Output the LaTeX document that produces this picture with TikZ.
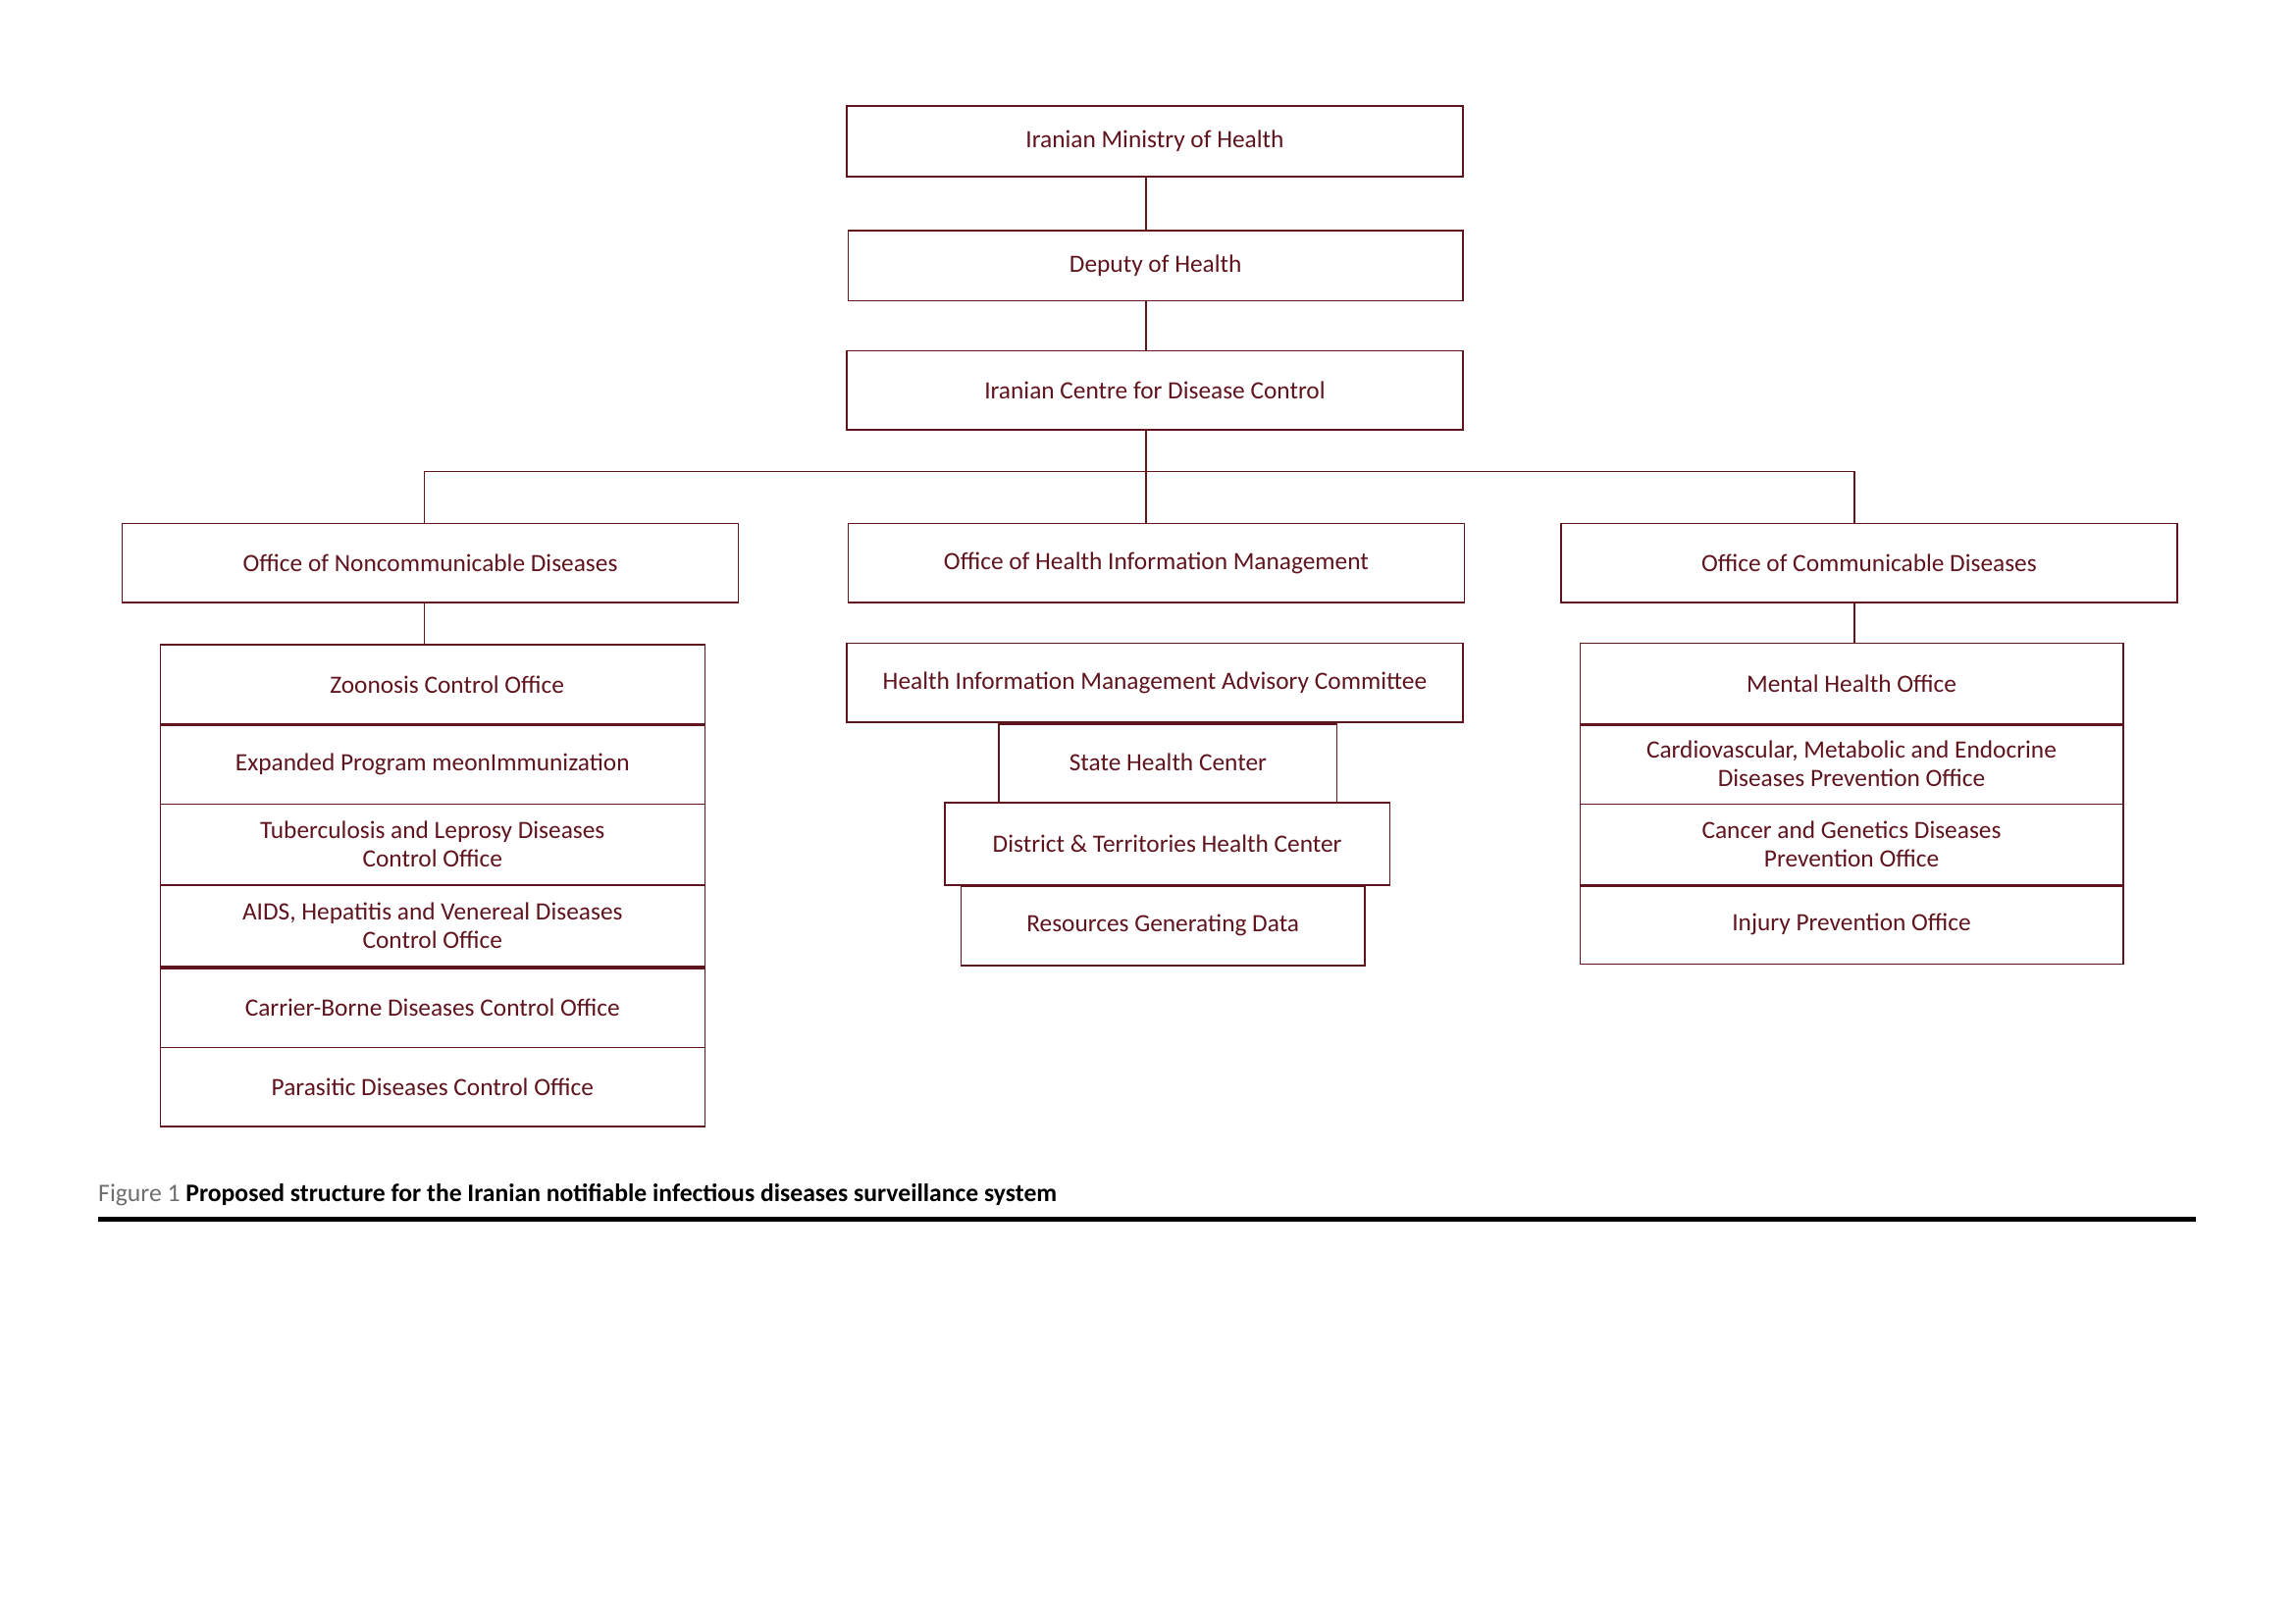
\documentclass[tikz,border=0pt]{standalone}
\usepackage{fontspec}
\setmainfont{Carlito}
\definecolor{mar}{RGB}{95,20,30}
\definecolor{capgray}{RGB}{110,110,110}
\begin{document}
\begin{tikzpicture}[x=1pt,y=-1pt,
  box/.style={draw=mar, line width=1pt, text=mar, inner sep=0pt, align=center,
    font=\fontsize{17}{19.5}\selectfont, anchor=north west},
  link/.style={draw=mar, line width=1pt},
  sep/.style={draw=mar, line width=2.2pt}]
\useasboundingbox[fill=white] (0,0) rectangle (1568,1109);
% top chain
\node[box, minimum width=421pt, minimum height=48pt] (min) at (578,72) {Iranian Ministry of Health};
\node[box, minimum width=420pt, minimum height=48pt] (dep) at (579,157) {Deputy of Health};
\node[box, minimum width=421pt, minimum height=54pt] (icdc) at (578,239) {Iranian Centre for Disease Control};
% offices
\node[box, minimum width=421pt, minimum height=54pt] (ncd) at (83,357) {Office of Noncommunicable Diseases};
\node[box, minimum width=421pt, minimum height=54pt] (him) at (579,357) {Office of Health Information Management};
\node[box, minimum width=421pt, minimum height=54pt] (cd) at (1066,357) {Office of Communicable Diseases};
% left stack
\node[box, minimum width=372pt, minimum height=54pt] (zoo) at (109,440) {\hspace*{20pt}Zoonosis Control Office};
\node[box, minimum width=372pt, minimum height=55pt] (epi) at (109,494) {Expanded Program meonImmunization};
\node[box, minimum width=372pt, minimum height=55pt] (tb) at (109,549) {Tuberculosis and Leprosy Diseases\\Control Office};
\node[box, minimum width=372pt, minimum height=56pt] (aids) at (109,604) {AIDS, Hepatitis and Venereal Diseases\\Control Office};
\node[box, minimum width=372pt, minimum height=55pt] (carr) at (109,660) {Carrier-Borne Diseases Control Office};
\node[box, minimum width=372pt, minimum height=54pt] (par) at (109,715) {Parasitic Diseases Control Office};
% middle stack
\node[box, minimum width=421pt, minimum height=54pt] (himac) at (578,439) {Health Information Management Advisory Committee};
\node[box, minimum width=231pt, minimum height=55pt] (state) at (682,493) {State Health Center};
\node[box, minimum width=304pt, minimum height=56pt] (dist) at (645,548) {District \& Territories Health Center};
\node[box, minimum width=276pt, minimum height=55pt] (res) at (656,604) {Resources Generating Data};
% right stack
\node[box, minimum width=371pt, minimum height=55pt] (ment) at (1079,439) {Mental Health Office};
\node[box, minimum width=371pt, minimum height=55pt] (card) at (1079,494) {Cardiovascular, Metabolic and Endocrine\\Diseases Prevention Office};
\node[box, minimum width=371pt, minimum height=55pt] (canc) at (1079,549) {Cancer and Genetics Diseases\\Prevention Office};
\node[box, minimum width=371pt, minimum height=54pt] (inj) at (1079,604) {Injury Prevention Office};
% thicker separators
\draw[sep] (zoo.south west) -- (zoo.south east);
\draw[sep] (aids.south west) -- (aids.south east);
\draw[sep] (himac.south -| state.west) -- (himac.south -| state.east);
\draw[sep] (dist.south -| res.west) -- (dist.south -| res.east);
\draw[sep] (ment.south west) -- (ment.south east);
\draw[sep] (canc.south west) -- (canc.south east);
% connectors
\coordinate (bus) at (783,322);
\coordinate (busL) at (290,322);
\coordinate (busR) at (1267,322);
\draw[link] (min.south -| bus) -- (dep.north -| bus);
\draw[link] (dep.south -| bus) -- (icdc.north -| bus);
\draw[link] (icdc.south -| bus) -- (him.north -| bus);
\draw[link] (busL) -- (busR);
\draw[link] (busL) -- (ncd.north -| busL);
\draw[link] (busR) -- (cd.north -| busR);
\draw[link] (ncd.south -| busL) -- (zoo.north -| busL);
\draw[link] (cd.south -| busR) -- (ment.north -| busR);
% caption
\node[anchor=base west, inner sep=0pt, font=\fontsize{17.2}{19}\selectfont] (cap) at (67,821)
  {\textcolor{capgray}{Figure 1} \textbf{Proposed structure for the Iranian notifiable infectious diseases surveillance system}};
\coordinate (ruleL) at (67,833);
\coordinate (ruleR) at (1500,833);
\draw[line width=3pt] (ruleL) -- (ruleR);
\end{tikzpicture}
\end{document}
